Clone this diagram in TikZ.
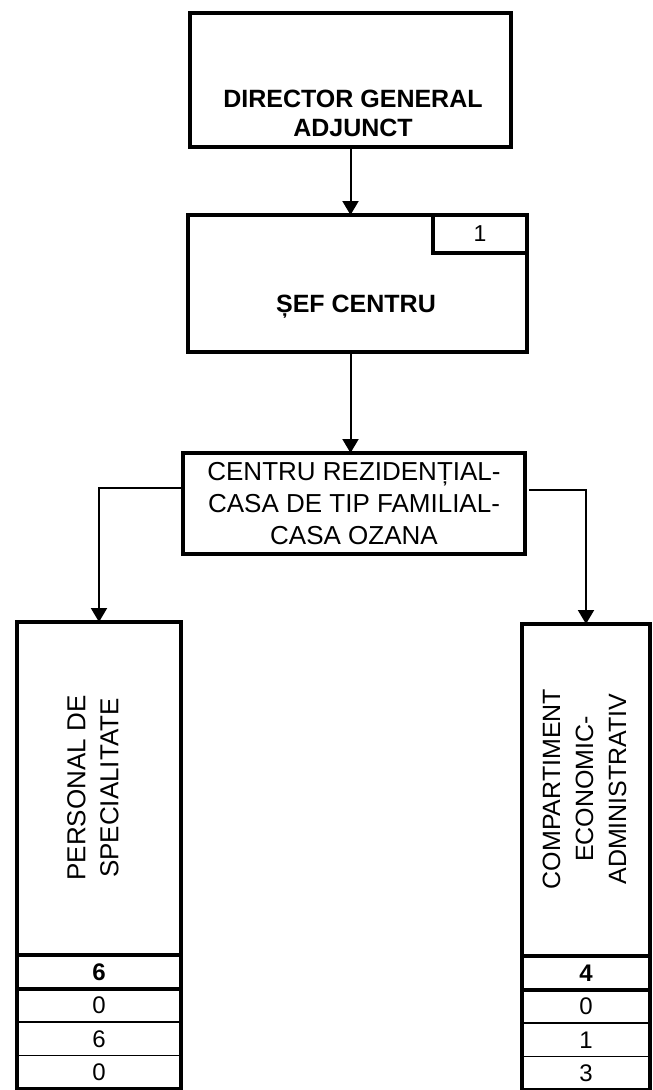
\documentclass[tikz,border=0pt]{standalone}
\usepackage{fontspec}
\setmainfont{Liberation Sans}
\usetikzlibrary{arrows.meta,positioning}
\begin{document}
\begin{tikzpicture}[x=1pt,y=1pt,
    unit/.style={draw, line width=4pt, inner sep=0pt, outer sep=0pt},
    cell/.style={draw, line width=1.3pt, inner sep=0pt, outer sep=0pt, minimum height=33.5pt, font=\fontsize{24}{24}\selectfont},
    cellbold/.style={cell, font=\fontsize{24}{24}\selectfont\bfseries},
    conn/.style={line width=2pt,->,>={Triangle[width=16pt,length=14pt]}}]
  \useasboundingbox (0,0) rectangle (653,-1090);
  \node[unit, minimum width=321pt, minimum height=134pt] (dga) at (350.5,-80) {};
  \node[font=\fontsize{25}{29}\selectfont\bfseries, align=center] (dgatext) at (353,-113.5) {DIRECTOR GENERAL\\ADJUNCT};
  \node[unit, minimum width=339pt, minimum height=137pt] (sef) at (357.5,-283.5) {};
  \node[anchor=base, font=\fontsize{25}{29}\selectfont\bfseries] (seftext) at (356,-312) {ȘEF CENTRU};
  \node[unit, minimum width=94pt, minimum height=38pt, font=\fontsize{23}{23}\selectfont] (sefnr) at (480,-234) {1};
  \node[unit, minimum width=342pt, minimum height=101pt, align=center, font=\fontsize{26}{32}\selectfont] (crt) at (354,-503.5) {CENTRU REZIDENȚIAL-\\CASA DE TIP FAMILIAL-\\CASA OZANA};
  \node[unit, minimum width=164pt, minimum height=333pt] (pers) at (99,-788.5) {};
  \node[rotate=90, align=center, font=\fontsize{26}{33}\selectfont] (perstext) at (93,-788) {PERSONAL DE\\SPECIALITATE};
  \node[cellbold, minimum width=164pt, below=0pt of pers] (pers1) {6};
  \node[cell, minimum width=164pt, below=0pt of pers1] (pers2) {0};
  \node[cell, minimum width=164pt, below=0pt of pers2] (pers3) {6};
  \node[cell, minimum width=164pt, below=0pt of pers3] (pers4) {0};
  \draw[line width=4pt] (pers.north west) rectangle (pers4.south east);
  \draw[line width=4pt] (pers1.south west) -- (pers1.south east);
  \node[unit, minimum width=128pt, minimum height=332pt] (comp) at (586,-790) {};
  \node[rotate=90, align=center, font=\fontsize{25}{33}\selectfont] (comptext) at (584.5,-789) {COMPARTIMENT\\ECONOMIC-\\ADMINISTRATIV};
  \node[cellbold, minimum width=128pt, below=0pt of comp] (comp1) {4};
  \node[cell, minimum width=128pt, below=0pt of comp1] (comp2) {0};
  \node[cell, minimum width=128pt, below=0pt of comp2] (comp3) {1};
  \node[cell, minimum width=128pt, below=0pt of comp3] (comp4) {3};
  \draw[line width=4pt] (comp.north west) rectangle (comp4.south east);
  \draw[line width=4pt] (comp1.south west) -- (comp1.south east);
  \draw[conn] (dga.south) -- (dga.south |- sef.north);
  \draw[conn] (sef.south -| dga.south) -- (dga.south |- crt.north);
  \draw[conn] ([yshift=16pt]crt.west) -| (pers.north);
  \draw[conn] ([xshift=4pt,yshift=14pt]crt.east) -| (comp.north);
\end{tikzpicture}
\end{document}
